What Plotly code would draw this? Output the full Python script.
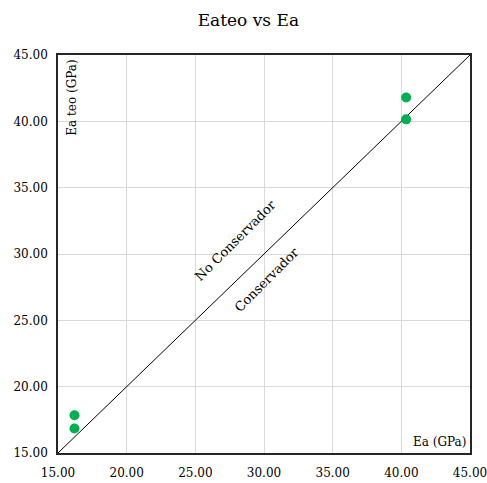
import plotly.graph_objects as go

ea = [16.2, 16.2, 40.35, 40.35]
ea_teo = [17.85, 16.85, 41.8, 40.15]
line_x = [15, 45]
line_y = [15, 45]
tick_vals = [15, 20, 25, 30, 35, 40, 45]
tick_text = ["15.00", "20.00", "25.00", "30.00", "35.00", "40.00", "45.00"]

font = "DejaVu Serif"

fig = go.Figure()
fig.add_trace(go.Scatter(x=line_x, y=line_y, mode="lines",
                         line=dict(color="black", width=1), hoverinfo="skip"))
fig.add_trace(go.Scatter(x=ea, y=ea_teo, mode="markers",
                         marker=dict(color="#00B050", size=10)))

fig.add_annotation(x=27.9, y=31.05, text="No Conservador", showarrow=False,
                   textangle=-45, font=dict(family=font, size=13, color="black"))
fig.add_annotation(x=30.2, y=28.1, text="Conservador", showarrow=False,
                   textangle=-45, font=dict(family=font, size=13, color="black"))
fig.add_annotation(x=0.012, y=0.993, xref="paper", yref="paper", xanchor="left", yanchor="top",
                   text="Ea teo (GPa)", showarrow=False, textangle=-90,
                   font=dict(family=font, size=12, color="black"))
fig.add_annotation(x=0.995, y=0.005, xref="paper", yref="paper", xanchor="right", yanchor="bottom",
                   text="Ea (GPa)", showarrow=False,
                   font=dict(family=font, size=12, color="black"))

axis_common = dict(range=[15, 45], tickvals=tick_vals, ticktext=tick_text,
                   showgrid=True, gridcolor="#d9d9d9", gridwidth=1,
                   showline=True, linecolor="#262626", linewidth=1.5, mirror=True,
                   ticks="", zeroline=False, automargin=False,
                   ticklabeloverflow="allow",
                   tickfont=dict(family=font, size=12, color="black"))

fig.update_layout(
    width=487, height=483,
    margin=dict(l=58, r=17, t=55, b=30),
    paper_bgcolor="white", plot_bgcolor="white",
    showlegend=False,
    title=dict(text="Eateo vs Ea", x=0.51, xanchor="center", y=0.958, yanchor="middle",
               font=dict(family=font, size=17, color="black")),
    xaxis=dict(axis_common, ticklabelstandoff=8),
    yaxis=dict(axis_common, ticklabelstandoff=6),
)

fig.write_html("out.html")
